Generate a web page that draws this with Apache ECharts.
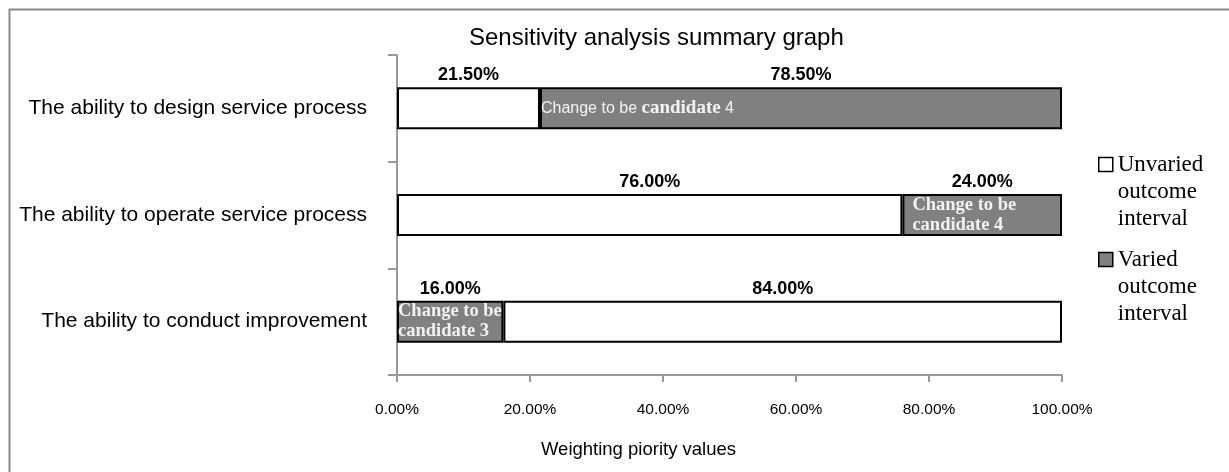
<!DOCTYPE html>
<html>
  <head>
    <meta charset="utf-8" />
    <title>Sensitivity analysis summary graph</title>
    <style type="text/css">
      html,
      body {
        margin: 0;
        padding: 0;
        width: 100%;
        height: 100%;
        background: #fff;
      }
      #chart {
        width: 1229px;
        height: 472px;
      }
    </style>
  </head>
  <body>
    <div id="chart"></div>

    <script src="https://cdn.jsdelivr.net/npm/echarts@6/dist/echarts.min.js"></script>
    <script type="text/javascript">
      // data (top row first)
      var categories = [
        "The ability to design service process",
        "The ability to operate service process",
        "The ability to conduct improvement",
      ];
      var unvaried = [21.5, 76.0, 84.0];
      var varied = [78.5, 24.0, 16.0];
      // row where the varied part comes first
      var variedFirst = [false, false, true];
      var notes = [
        "Change to be {b|candidate} 4",
        "{s|Change to be}\n{s|candidate 4}",
        "{s|Change to be}\n{s|candidate 3}",
      ];
      var xTicks = [0, 20, 40, 60, 80, 100];

      var SANS = "Liberation Sans";
      var SERIF = "Liberation Serif";

      var chart = echarts.init(document.getElementById("chart"));

      var pctLabel = {
        show: true,
        position: "top",
        distance: 3,
        color: "#000",
        fontFamily: SANS,
        fontWeight: "bold",
        fontSize: 18,
        formatter: function (p) {
          return p.value.toFixed(2) + "%";
        },
      };
      var barStyle = function (color) {
        return { color: color, borderColor: "#000", borderWidth: 2 };
      };

      var option = {
        animation: false,
        backgroundColor: "#fff",
        title: {
          text: "Sensitivity analysis summary graph",
          left: 469,
          top: 26,
          padding: 0,
          textStyle: {
            fontFamily: SANS,
            fontWeight: "normal",
            fontSize: 24,
            color: "#000",
          },
        },
        graphic: [
          {
            type: "rect",
            shape: { x: 9.5, y: 9.5, width: 1300, height: 500 },
            style: { fill: "none", stroke: "#888", lineWidth: 2 },
            silent: true,
            z: -1,
          },
        ],
        legend: {
          data: ["Unvaried outcome interval", "Varied outcome interval"],
          orient: "vertical",
          left: 1098,
          top: 97,
          padding: 0,
          itemGap: -40,
          itemWidth: 14,
          itemHeight: 14,
          icon: "rect",
          itemStyle: { borderColor: "#000", borderWidth: 1.5 },
          // two empty lines on top so the icon sits next to the first line
          formatter: function (name) {
            return "\n\n" + name.replace(" outcome ", "\noutcome\n");
          },
          textStyle: {
            fontFamily: SERIF,
            fontSize: 23,
            lineHeight: 27,
            color: "#000",
          },
        },
        grid: {
          left: 397,
          right: 167,
          top: 55,
          bottom: 97,
          containLabel: false,
        },
        xAxis: {
          type: "value",
          min: xTicks[0],
          max: xTicks[xTicks.length - 1],
          interval: xTicks[1] - xTicks[0],
          name: "Weighting piority values",
          nameLocation: "middle",
          nameGap: 65,
          nameTextStyle: {
            fontFamily: SANS,
            fontSize: 18.5,
            color: "#000",
            padding: [0, 182, 0, 0],
          },
          axisLine: { show: true, lineStyle: { color: "#999", width: 2 } },
          axisTick: { show: true, length: 7, lineStyle: { color: "#999", width: 2 } },
          splitLine: { show: false },
          axisLabel: {
            margin: 27,
            fontFamily: SANS,
            fontSize: 15.5,
            color: "#000",
            formatter: function (v) {
              return v.toFixed(2) + "%";
            },
          },
        },
        yAxis: {
          type: "category",
          inverse: true,
          data: categories,
          axisLine: { show: true, lineStyle: { color: "#999", width: 2 } },
          axisTick: { show: true, length: 9, lineStyle: { color: "#999", width: 2 } },
          axisLabel: {
            margin: 30,
            fontFamily: SANS,
            fontSize: 21,
            color: "#000",
            padding: [0, 0, 5, 0],
          },
        },
        series: [
          {
            name: "Unvaried outcome interval",
            type: "bar",
            stack: "main",
            barWidth: 42,
            barGap: "-100%",
            itemStyle: barStyle("#fff"),
            label: pctLabel,
            data: unvaried.map(function (v, i) {
              return variedFirst[i] ? "-" : v;
            }),
          },
          {
            name: "Varied outcome interval",
            type: "bar",
            stack: "main",
            barWidth: 42,
            barGap: "-100%",
            itemStyle: barStyle("#808080"),
            label: pctLabel,
            data: varied,
          },
          {
            name: "Unvaried outcome interval",
            type: "bar",
            stack: "main",
            barWidth: 42,
            barGap: "-100%",
            itemStyle: barStyle("#fff"),
            label: pctLabel,
            data: unvaried.map(function (v, i) {
              return variedFirst[i] ? v : "-";
            }),
          },
          // transparent overlay, only used to place the notes inside the grey parts
          {
            name: "spacer",
            type: "bar",
            stack: "note",
            barWidth: 42,
            barGap: "-100%",
            silent: true,
            itemStyle: { color: "rgba(0,0,0,0)" },
            data: unvaried.map(function (v, i) {
              return variedFirst[i] ? 0 : v;
            }),
          },
          {
            name: "note",
            type: "bar",
            stack: "note",
            barWidth: 42,
            barGap: "-100%",
            silent: true,
            itemStyle: { color: "rgba(0,0,0,0)" },
            label: {
              show: true,
              position: "insideLeft",
              distance: 1,
              color: "#f2f2f2",
              fontFamily: SANS,
              fontSize: 16,
              formatter: function (p) {
                return notes[p.dataIndex];
              },
              rich: {
                b: {
                  fontFamily: SERIF,
                  fontWeight: "bold",
                  fontSize: 19,
                  color: "#f2f2f2",
                },
                s: {
                  fontFamily: SERIF,
                  fontWeight: "bold",
                  fontSize: 18.5,
                  lineHeight: 20,
                  color: "#f2f2f2",
                },
              },
            },
            data: varied.map(function (v, i) {
              if (i === 1) {
                return { value: v, label: { distance: 10 } };
              }
              return v;
            }),
          },
        ],
      };

      chart.setOption(option);
    </script>
  </body>
</html>
